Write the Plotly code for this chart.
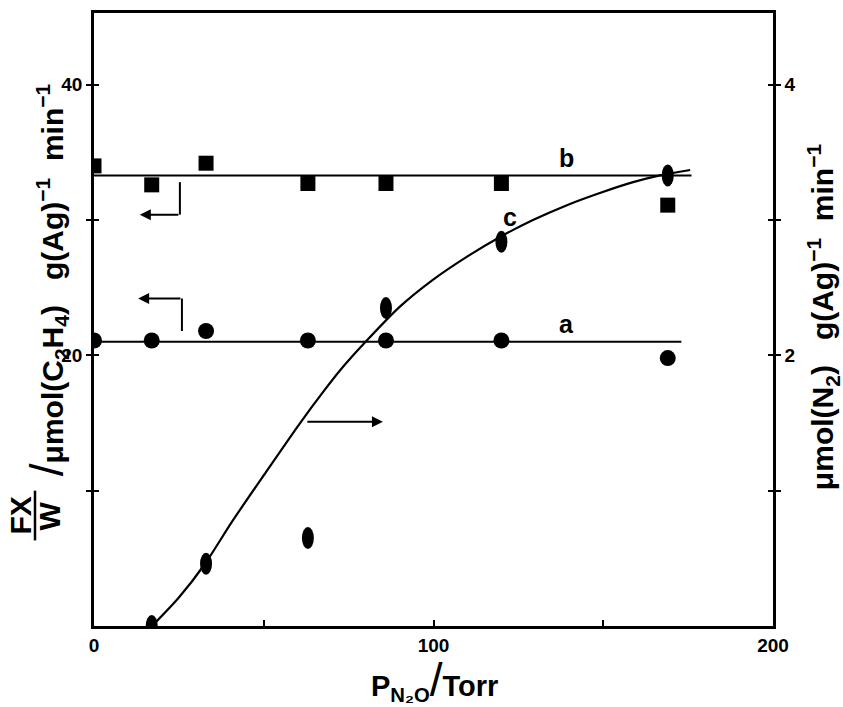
import plotly.graph_objects as go

# ---- data ----
p_n2o = [0, 17, 33, 63, 86, 120, 169]           # Torr
rate_b = [34.0, 32.6, 34.2, 32.7, 32.7, 32.7, 31.1]   # squares, left axis
rate_a = [21.1, 21.1, 21.8, 21.1, 21.1, 21.1, 19.8]   # circles, left axis

p_c = [17, 33, 63, 86, 120, 169]
rate_c = [0.0, 0.46, 0.65, 2.35, 2.84, 3.33]          # N2, right axis

line_a_x = [0, 173]
line_a_y = [21.0, 21.0]
line_b_x = [0, 176]
line_b_y = [33.3, 33.3]

curve_c_x = [17.1, 25.0, 32.7, 40.9, 51.0, 60.7, 67.5, 72.5, 80.0, 90.1, 99.9,
             109.9, 119.6, 129.3, 139.3, 149.0, 158.8, 166.7, 175.6]
curve_c_y = [0.0, 0.21, 0.46, 0.78, 1.15, 1.50, 1.73, 1.89, 2.10, 2.36, 2.56,
             2.73, 2.875, 3.0, 3.11, 3.20, 3.28, 3.33, 3.37]

x_ticks = [0, 50, 100, 150, 200]
x_ticktext = ["0", "", "100", "", "200"]
yl_ticks = [10, 20, 30, 40]
yl_ticktext = ["", "20", "", "40"]
yr_ticks = [1, 2, 3, 4]
yr_ticktext = ["", "2", "", "4"]

# ---- layout geometry ----
W, H = 843, 707
ML, MR, MT, MB = 94, 70, 10, 81
PW, PH = W - ML - MR, H - MT - MB
FONT = "Liberation Sans"

def px(xp):
    return (xp - ML) / PW

def py(yp):
    return (H - MB - yp) / PH

fig = go.Figure()

fig.add_trace(go.Scatter(x=line_b_x, y=line_b_y, mode="lines",
                         line=dict(color="black", width=2), showlegend=False))
fig.add_trace(go.Scatter(x=line_a_x, y=line_a_y, mode="lines",
                         line=dict(color="black", width=2), showlegend=False))
fig.add_trace(go.Scatter(x=p_n2o, y=rate_b, mode="markers",
                         marker=dict(symbol="square", size=15, color="black"),
                         showlegend=False))
fig.add_trace(go.Scatter(x=p_n2o, y=rate_a, mode="markers",
                         marker=dict(symbol="circle", size=16, color="black"),
                         showlegend=False))
fig.add_trace(go.Scatter(x=curve_c_x, y=curve_c_y, mode="lines", yaxis="y2",
                         line=dict(color="black", width=2.2, shape="spline", smoothing=0.8),
                         showlegend=False))

shapes = []
# ellipse markers for series c
for xv, yv in zip(p_c, rate_c):
    shapes.append(dict(type="circle", xref="x", yref="y2",
                       xsizemode="pixel", ysizemode="pixel",
                       xanchor=xv, yanchor=yv, x0=-6, x1=6, y0=-11, y1=11,
                       fillcolor="black", line=dict(color="black", width=0)))

# bracket vertical segments
shapes.append(dict(type="line", xref="x", yref="y", x0=25.3, x1=25.3, y0=32.8, y1=30.4,
                   line=dict(color="black", width=2)))
shapes.append(dict(type="line", xref="x", yref="y", x0=25.9, x1=25.9, y0=24.2, y1=21.8,
                   line=dict(color="black", width=2)))
# fraction bar of FX/W
shapes.append(dict(type="line", xref="paper", yref="paper",
                   x0=px(35), x1=px(35), y0=py(490), y1=py(540),
                   line=dict(color="black", width=2.5)))

annotations = []
# arrows
for (hx, hy, tx, ty) in [(13.5, 30.4, 25.3, 30.4), (13.0, 24.2, 25.9, 24.2), (85.1, 15.1, 62.4, 15.1)]:
    annotations.append(dict(x=hx, y=hy, ax=tx, ay=ty, xref="x", yref="y",
                            axref="x", ayref="y", text="", showarrow=True,
                            arrowhead=2, arrowsize=1.1, arrowwidth=2, arrowcolor="black"))

lab_font = dict(family=FONT, size=25, color="black", weight="bold")
annotations += [
    dict(x=139.3, y=34.6, xref="x", yref="y", text="b", showarrow=False, font=lab_font),
    dict(x=139.3, y=22.3, xref="x", yref="y", text="a", showarrow=False, font=lab_font),
    dict(x=122.5, y=30.2, xref="x", yref="y", text="c", showarrow=False, font=lab_font),
]

SL = "<span style='font-size:46px;font-weight:normal'>/</span>"
title_font = dict(family=FONT, size=30, color="black", weight="bold")
annotations += [
    dict(x=px(21), y=py(515), xref="paper", yref="paper", text="FX", textangle=-90,
         showarrow=False, font=title_font, xanchor="center", yanchor="middle"),
    dict(x=px(50), y=py(515), xref="paper", yref="paper", text="W", textangle=-90,
         showarrow=False, font=title_font, xanchor="center", yanchor="middle"),
    dict(x=px(47), y=py(478), xref="paper", yref="paper",
         text=SL + "μmol(C<sub>2</sub>H<sub>4</sub>)   g(Ag)<sup>−1</sup>  min<sup>−1</sup>",
         textangle=-90, showarrow=False, font=title_font, xanchor="center", yanchor="bottom"),
    dict(x=px(823), y=py(492), xref="paper", yref="paper",
         text="μmol(N<sub>2</sub>)   g(Ag)<sup>−1</sup>  min<sup>−1</sup>",
         textangle=-90, showarrow=False, font=title_font, xanchor="center", yanchor="bottom"),
    dict(x=px(434), y=py(680), xref="paper", yref="paper",
         text="P<sub>N₂O</sub>" + SL + "Torr",
         showarrow=False, font=dict(family=FONT, size=29, color="black", weight="bold"),
         xanchor="center", yanchor="middle"),
]

tick_font = dict(family=FONT, size=19, color="black", weight="bold")
axis_common = dict(showgrid=False, zeroline=False, linecolor="black", linewidth=2.5,
                   tickcolor="black", tickwidth=2, tickfont=tick_font)

fig.update_layout(
    width=W, height=H,
    margin=dict(l=ML, r=MR, t=MT, b=MB, pad=0),
    paper_bgcolor="white", plot_bgcolor="white",
    showlegend=False,
    shapes=shapes, annotations=annotations,
    xaxis=dict(range=[0, 200], tickvals=x_ticks, ticktext=x_ticktext,
               ticks="inside", ticklen=6, showline=True, mirror=True, **axis_common),
    yaxis=dict(range=[0, 45.3], tickvals=yl_ticks, ticktext=yl_ticktext,
               ticks="outside", ticklen=5, showline=True, **axis_common),
    yaxis2=dict(range=[0, 4.53], tickvals=yr_ticks, ticktext=yr_ticktext, side="right",
                overlaying="y", ticks="outside", ticklen=5, showline=True, **axis_common),
    yaxis3=dict(range=[0, 45.3], tickvals=yl_ticks, overlaying="y", side="left",
                ticks="inside", ticklen=5, showticklabels=False, showline=False,
                showgrid=False, zeroline=False, tickcolor="black", tickwidth=2),
    yaxis4=dict(range=[0, 4.53], tickvals=yr_ticks, overlaying="y", side="right",
                ticks="inside", ticklen=5, showticklabels=False, showline=False,
                showgrid=False, zeroline=False, tickcolor="black", tickwidth=2),
)

# dummy traces so overlay axes render ticks
fig.add_trace(go.Scatter(x=[None], y=[None], yaxis="y3", showlegend=False))
fig.add_trace(go.Scatter(x=[None], y=[None], yaxis="y4", showlegend=False))

fig.write_html("out.html", config={"displayModeBar": False},
               post_script="document.body.style.margin='0';document.body.style.overflow='hidden';")
